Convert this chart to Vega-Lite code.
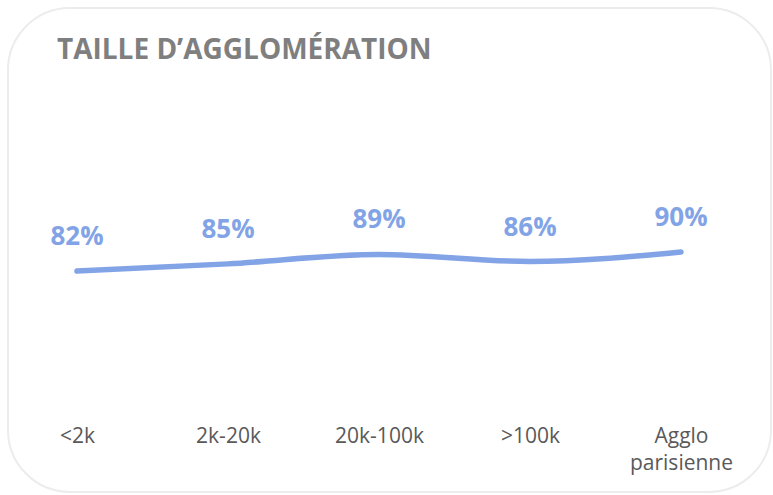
{
  "$schema": "https://vega.github.io/schema/vega-lite/v6.json",
  "width": 763,
  "height": 484,
  "autosize": {"type": "none"},
  "padding": {"left": 8, "top": 8, "right": 2, "bottom": 3},
  "background": "white",
  "config": {
    "view": {"stroke": "#ececec", "strokeWidth": 2, "cornerRadius": 62, "fill": "white"},
    "font": "Open Sans"
  },
  "title": {
    "text": "TAILLE D’AGGLOMÉRATION",
    "anchor": "start",
    "frame": "group",
    "offset": -79,
    "dx": 49,
    "baseline": "alphabetic",
    "font": "Open Sans",
    "fontSize": 28,
    "fontWeight": "bold",
    "color": "#7f7f7f"
  },
  "data": {
    "values": [
      {"taille": "<2k", "part": 0.82},
      {"taille": "2k-20k", "part": 0.85},
      {"taille": "20k-100k", "part": 0.89},
      {"taille": ">100k", "part": 0.86},
      {"taille": "Agglo parisienne", "part": 0.90}
    ]
  },
  "encoding": {
    "x": {
      "field": "taille",
      "type": "ordinal",
      "sort": null,
      "scale": {"type": "point", "range": [69, 673], "padding": 0},
      "axis": {
        "title": null,
        "domain": false,
        "ticks": false,
        "grid": false,
        "labelAngle": 0,
        "labelPadding": 0,
        "offset": -67,
        "labelBaseline": "top",
        "labelFont": "Open Sans",
        "labelFontSize": 21,
        "labelColor": "#595959",
        "labelLineHeight": 27,
        "labelExpr": "datum.value == 'Agglo parisienne' ? ['Agglo', 'parisienne'] : datum.value"
      }
    },
    "y": {
      "field": "part",
      "type": "quantitative",
      "scale": {"domain": [0, 1], "range": [457.75, 220.25]},
      "axis": null
    }
  },
  "layer": [
    {
      "mark": {"type": "line", "interpolate": "monotone", "stroke": "#82a4e6", "strokeWidth": 5.5, "strokeCap": "round"}
    },
    {
      "mark": {"type": "text", "dy": -34, "font": "Open Sans", "fontSize": 26, "fontWeight": "bold", "color": "#82a4e6", "baseline": "middle"},
      "encoding": {"text": {"field": "part", "type": "quantitative", "format": ".0%"}}
    }
  ]
}
